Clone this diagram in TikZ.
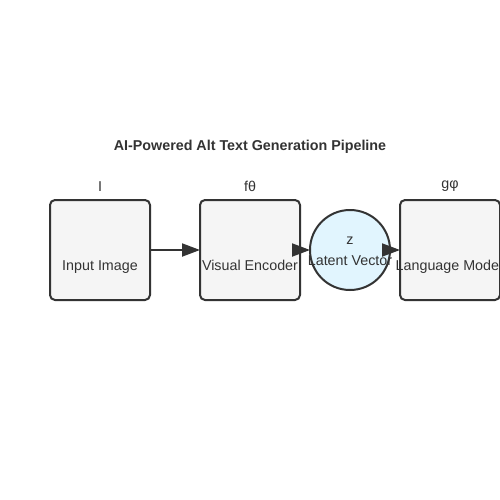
\documentclass[tikz,border=0pt]{standalone}
\usepackage{fontspec}
\setmainfont{Liberation Sans}
\usetikzlibrary{arrows.meta}
\definecolor{ink}{HTML}{333333}
\definecolor{boxfill}{HTML}{F5F5F5}
\definecolor{circfill}{HTML}{E1F5FE}
\tikzset{
  stagebox/.style={draw=ink, fill=boxfill, line width=2pt, rounded corners=5pt, minimum width=100pt, minimum height=100pt, inner sep=0pt, outer sep=0pt},
  latent/.style={draw=ink, fill=circfill, line width=2pt, circle, minimum size=80pt, inner sep=0pt, outer sep=0pt},
  txt/.style={text=ink, font=\fontsize{14.3pt}{16pt}\selectfont, inner sep=0pt},
  ttl/.style={text=ink, font=\bfseries\fontsize{14.3pt}{16pt}\selectfont, inner sep=0pt},
  conn/.style={draw=ink, line width=2pt, -{Triangle[length=18pt,width=13pt]}},
}
\begin{document}
\begin{tikzpicture}[x=1pt,y=-1pt]
\useasboundingbox (0,0) rectangle (500,500);
\fill[white] (0,0) rectangle (500,500);
\clip (0,0) rectangle (500,500);
\node[ttl] (title) at (250,147) {AI-Powered Alt Text Generation Pipeline};
\node[stagebox] (inp) at (100,250) {};
\node[stagebox] (enc) at (250,250) {};
\node[latent] (lat) at (350,250) {};
\node[stagebox] (lm) at (450,250) {};
\node[txt] (inpt) at (100,267) {Input Image};
\node[txt] (enct) at (250,265) {Visual Encoder};
\node[txt] (lmt) at (449,267) {Language Model};
\node[txt] (latz) at (350,241) {z};
\node[txt] (latt) at (350,261) {Latent Vector};
\node[txt] (inpl) at (100,187) {I};
\node[txt] (encl) at (250,186) {fθ};
\node[txt] (lml) at (450,186) {gφ};
\draw[conn] (inp.east) -- (enc.west);
\draw[conn] (enc.east) -- (lat.west);
\draw[conn] (lat.east) -- (lm.west);
\end{tikzpicture}
\end{document}
